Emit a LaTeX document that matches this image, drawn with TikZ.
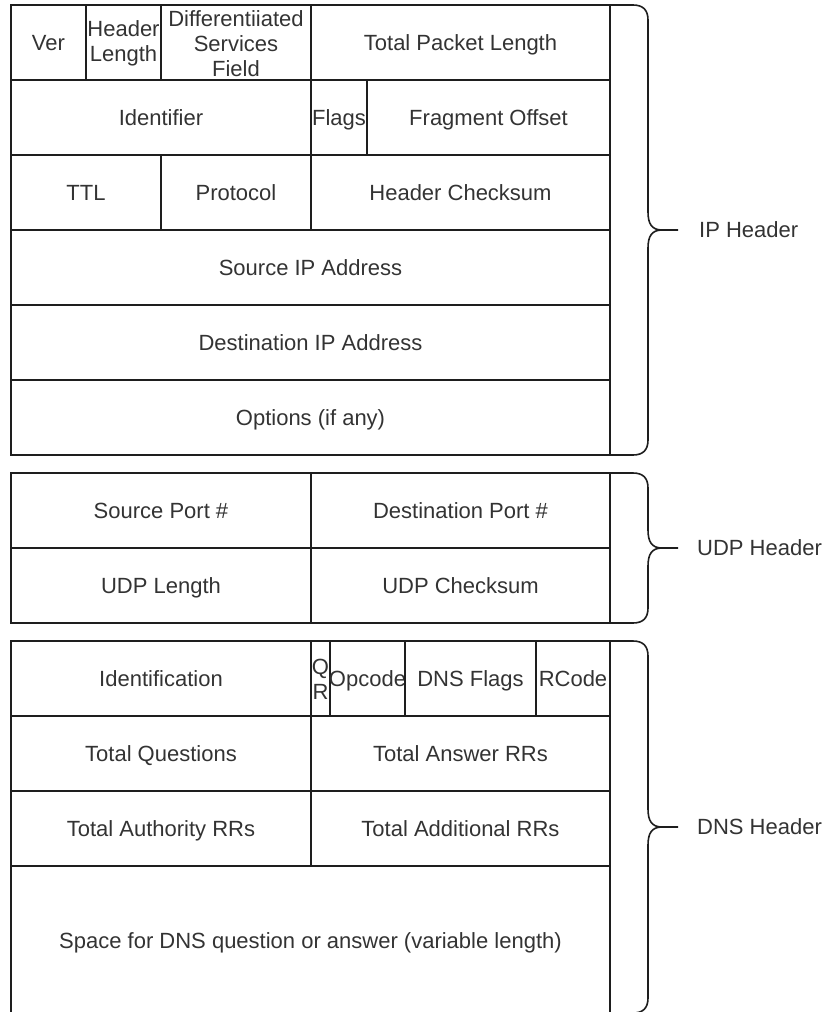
\documentclass[tikz,border=0pt]{standalone}
\usepackage{fontspec}
\setmainfont{Liberation Sans}
\definecolor{ink}{HTML}{1E1E1E}
\definecolor{txtc}{HTML}{333333}
\tikzset{
  cell/.style={draw=ink, line width=1.6pt, inner sep=0pt, outer sep=0pt},
  txt/.style={inner sep=0pt, align=center, text=txtc, font=\fontsize{22}{25}\selectfont},
  oneline/.style={text height=18pt, text depth=2.5pt},
  bracepath/.style={draw=ink, line width=1.6pt, line join=round},
  lbl/.style={anchor=west, inner sep=0pt, text=txtc, font=\fontsize{22}{25}\selectfont, text height=18pt, text depth=2.5pt}
}
% name, x1, y1, x2, y2, text  (single line)
\newcommand{\cellat}[6]{%
  \node[cell, minimum width={(#4)-(#2)}, minimum height={(#5)-(#3)}] (#1) at ({((#2)+(#4))/2},{((#3)+(#5))/2}) {};
  \node[txt, oneline] (#1-t) at (#1.center) {#6};
}
% multi-line text variant
\newcommand{\cellml}[6]{%
  \node[cell, minimum width={(#4)-(#2)}, minimum height={(#5)-(#3)}] (#1) at ({((#2)+(#4))/2},{((#3)+(#5))/2}) {};
  \node[txt] (#1-t) at ([yshift=-1pt]#1.center) {#6};
}
% top, mid, bottom
\newcommand{\curlybrace}[3]{%
  \draw[bracepath] (610,#1) -- (633,#1) .. controls (643,#1) and (648,#1+5) .. (648,#1+15)
    -- (648,#2-18) .. controls (648,#2-6) and (652,#2) .. (662,#2) -- (678,#2);
  \draw[bracepath] (662,#2) .. controls (652,#2) and (648,#2+6) .. (648,#2+18)
    -- (648,#3-15) .. controls (648,#3-5) and (643,#3) .. (633,#3) -- (610,#3);
}
\begin{document}
\begin{tikzpicture}[x=1pt,y=-1pt]
\useasboundingbox (0,0) rectangle (825,1012);

% ---------- IP header ----------
\cellat{ver}{11}{5}{86}{80}{Ver}
\cellml{hl}{86}{5}{161}{80}{Header\\Length}
\cellml{dsf}{161}{5}{311}{80}{Differentiiated\\Services\\Field}
\cellat{tpl}{311}{5}{610}{80}{Total Packet Length}
\cellat{ident}{11}{80}{311}{155}{Identifier}
\cellat{flags}{311}{80}{367}{155}{Flags}
\cellat{fo}{367}{80}{610}{155}{Fragment Offset}
\cellat{ttl}{11}{155}{161}{230}{TTL}
\cellat{proto}{161}{155}{311}{230}{Protocol}
\cellat{hc}{311}{155}{610}{230}{Header Checksum}
\cellat{sip}{11}{230}{610}{305}{Source IP Address}
\cellat{dip}{11}{305}{610}{380}{Destination IP Address}
\cellat{opt}{11}{380}{610}{455}{Options (if any)}

% ---------- UDP header ----------
\cellat{sp}{11}{473}{311}{548}{Source Port \#}
\cellat{dp}{311}{473}{610}{548}{Destination Port \#}
\cellat{ul}{11}{548}{311}{623}{UDP Length}
\cellat{uc}{311}{548}{610}{623}{UDP Checksum}

% ---------- DNS header ----------
\cellat{dnsid}{11}{641}{311}{716}{Identification}
\cellml{qr}{311}{641}{330}{716}{Q\\R}
\cellat{opc}{330}{641}{405}{716}{Opcode}
\cellat{dfl}{405}{641}{536}{716}{DNS Flags}
\cellat{rc}{536}{641}{610}{716}{RCode}
\cellat{tq}{11}{716}{311}{791}{Total Questions}
\cellat{tan}{311}{716}{610}{791}{Total Answer RRs}
\cellat{tau}{11}{791}{311}{866}{Total Authority RRs}
\cellat{tad}{311}{791}{610}{866}{Total Additional RRs}
\cellat{spc}{11}{866}{610}{1016}{Space for DNS question or answer (variable length)}

% ---------- braces and labels ----------
\curlybrace{5}{230}{455}
\curlybrace{473}{548}{623}
\curlybrace{641}{827}{1013}
\node[lbl] (iplbl) at (699,230) {IP Header};
\node[lbl] (udplbl) at (697,548) {UDP Header};
\node[lbl] (dnslbl) at (697,827) {DNS Header};
\end{tikzpicture}
\end{document}
